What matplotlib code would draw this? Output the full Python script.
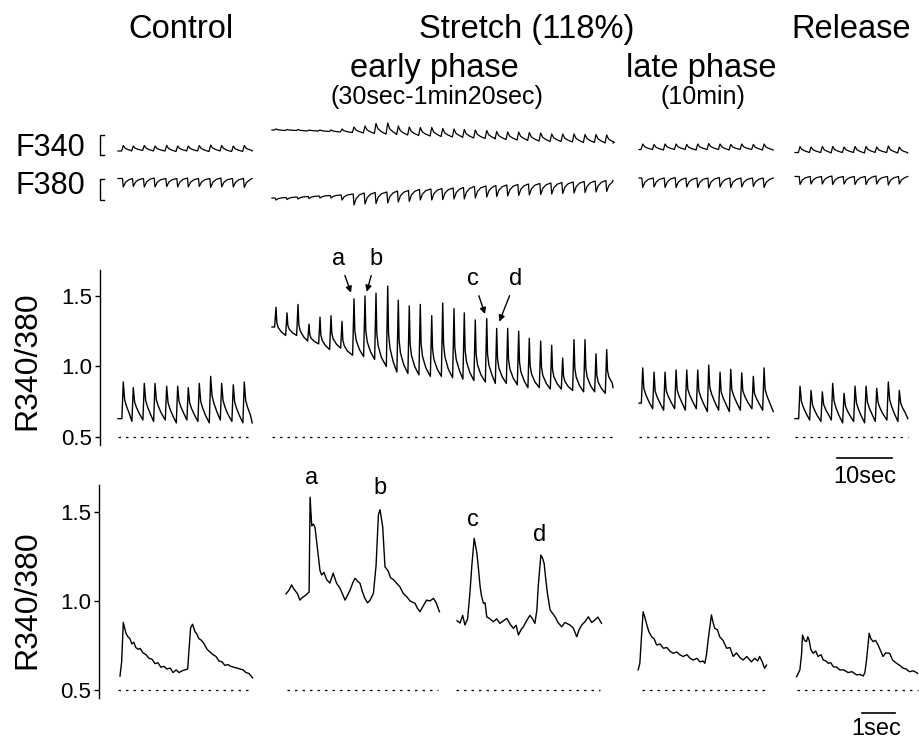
import numpy as np
import matplotlib.pyplot as plt

plt.rcParams['font.family'] = ['Liberation Sans', 'DejaVu Sans']

W, H = 919, 741

# ---------------- slow records (10 sec scale) ----------------
# peak times in s from the start of each record, ratio before each peak, ratio at peak
ctrl_peak_t = [0.96, 2.78, 4.78, 6.73, 8.85, 10.85, 12.78, 14.78, 16.85, 18.85, 20.96, 22.96]
ctrl_trough = [0.63, 0.61, 0.62, 0.61, 0.62, 0.60, 0.62, 0.61, 0.60, 0.62, 0.61, 0.60]
ctrl_peak = [0.89, 0.85, 0.88, 0.88, 0.86, 0.86, 0.85, 0.88, 0.93, 0.88, 0.87, 0.89]

early_peak_t = [0.73, 2.73, 4.73, 6.73, 8.73, 10.73, 12.73, 14.91, 16.91, 18.91, 21.04,
                22.96, 24.96, 26.96, 29.04, 31.04, 33.09, 34.96, 36.96, 39.04, 40.85,
                42.85, 44.85, 46.78, 48.85, 50.85, 52.85, 54.91, 56.91, 58.91, 60.85]
early_trough = [1.28, 1.22, 1.22, 1.18, 1.16, 1.12, 1.13, 1.08, 1.07, 1.05, 1.00,
                0.96, 0.95, 0.94, 0.93, 0.93, 0.92, 0.91, 0.90, 0.89, 0.88,
                0.88, 0.87, 0.85, 0.85, 0.84, 0.84, 0.83, 0.82, 0.82, 0.81]
early_peak = [1.42, 1.38, 1.44, 1.30, 1.35, 1.36, 1.32, 1.48, 1.50, 1.52, 1.57,
              1.47, 1.43, 1.44, 1.36, 1.45, 1.41, 1.38, 1.33, 1.34, 1.27,
              1.27, 1.25, 1.20, 1.18, 1.15, 1.06, 1.19, 1.19, 1.09, 1.12]

late_peak_t = [0.67, 2.73, 4.73, 6.73, 8.67, 10.67, 12.67, 14.73, 16.67, 18.67, 20.78, 22.73]
late_trough = [0.74, 0.70, 0.69, 0.70, 0.69, 0.70, 0.68, 0.69, 0.68, 0.69, 0.70, 0.69]
late_peak = [0.99, 0.96, 0.96, 0.975, 0.975, 0.975, 1.01, 0.96, 0.98, 0.955, 0.93, 0.99]

rel_peak_t = [0.91, 2.91, 4.96, 6.85, 8.91, 10.91, 12.91, 14.85, 16.96, 18.96]
rel_trough = [0.63, 0.62, 0.61, 0.62, 0.60, 0.61, 0.60, 0.61, 0.62, 0.61]
rel_peak = [0.86, 0.83, 0.82, 0.88, 0.81, 0.86, 0.86, 0.845, 0.89, 0.83]

# record start (s on the slow time axis), length (s), last ratio value
slow_start = [3.27, 31.27, 98.0, 126.36]
slow_len = [24.4, 62.0, 24.4, 20.5]
slow_end = [0.60, 0.85, 0.68, 0.63]

# F340 / F380 raw fluorescence (arbitrary units), one value per beat
f340_ctrl_base = [59, 59, 59.5, 59, 59, 58.5, 59, 59, 58.5, 59, 58.5, 58.5]
f340_ctrl_peak = [64.5, 64, 64.5, 64, 64.5, 64, 64, 64.5, 65, 64.5, 64, 64.5]
f380_ctrl_top = [31.5, 31.5, 31.5, 32, 31.5, 31.5, 32, 31.5, 31.5, 32, 31.5, 31.5]
f380_ctrl_dip = [23, 23.5, 23, 23, 23.5, 23, 23, 23.5, 22.5, 23, 23, 22.5]

f340_early_base = [80, 79.5, 79.5, 79, 79, 78.5, 78, 77.5, 77, 76.5, 76, 75.5, 75, 74.5, 74, 73.5,
                   73, 72.5, 72, 71.5, 71, 70.5, 70, 69.5, 69, 68.5, 68.5, 68, 67.5, 67.5, 67]
f340_early_peak = [81, 80.5, 80.5, 80, 80, 80, 81, 83, 84, 86.5, 87, 84, 83, 82.5, 82.5, 81.5,
                   81, 80.5, 80, 79.5, 78.5, 78, 78, 77.5, 77, 76, 76, 76, 75.5, 75.5, 75]
f380_early_top = [12, 12.5, 13, 13.5, 14, 14.5, 15, 16, 17, 17.5, 18, 19, 19.5, 20.5, 21, 21.5,
                  22, 22.5, 23.5, 24, 24.5, 25, 25.5, 26, 26.5, 27, 27.5, 28, 28.5, 29, 29.5]
f380_early_dip = [10, 10.5, 11, 11.5, 12, 12, 10, 5, 6, 6.5, 7, 8, 8.5, 10, 10, 10.5,
                  11, 11, 12, 13, 13.5, 14, 14.5, 15, 15.5, 16, 16.5, 17, 17.5, 18, 18.5]

f340_late_base = [60.5, 60.5, 60, 60.5, 60.5, 60, 60.5, 60.5, 60, 60.5, 60.5, 60]
f340_late_peak = [66, 65.5, 66, 66, 65.5, 66, 66.5, 66, 65.5, 66, 65.5, 66]
f380_late_top = [32, 32, 32, 32.5, 32, 32, 32, 32.5, 32, 32, 32, 32]
f380_late_dip = [22.5, 23, 22.5, 22.5, 23, 22.5, 22, 23, 22.5, 23, 23.5, 22.5]

f340_rel_base = [57.5, 57.5, 57.5, 57, 57.5, 57.5, 57, 57.5, 57.5, 57]
f340_rel_peak = [63.5, 63, 63.5, 63.5, 63, 63.5, 63.5, 63, 64, 63]
f380_rel_top = [33.5, 33.5, 33.5, 34, 33.5, 33.5, 33.5, 34, 33.5, 33.5]
f380_rel_dip = [25.5, 26, 26, 25.5, 26, 25.5, 25.5, 26, 25, 26]

f340_end = [59, 67, 60, 57]
f380_end = [31.5, 29.5, 32, 33.5]

# calibration brackets (a.u.)
bracket_lo = [55, 10]
bracket_hi = [75, 31.5]
f_names = ['F340', 'F380']
f_label_y = [62, 24]

# ---------------- fast records (1 sec scale) ----------------
# times in s from the start of each record, ratio values
ctrl_fast_t = [0.00, 0.05, 0.10, 0.14, 0.18, 0.24, 0.30, 0.36, 0.42, 0.48, 0.55, 0.61, 0.70, 0.79,
               0.88, 0.97, 1.06, 1.15, 1.24, 1.33, 1.42, 1.52, 1.61, 1.70, 1.79, 1.88, 1.97,
               2.05, 2.14, 2.20, 2.27, 2.33, 2.39, 2.47, 2.55, 2.64, 2.73, 2.82, 2.91, 3.00,
               3.09, 3.18, 3.27, 3.36, 3.45, 3.55, 3.64, 3.73, 3.82, 3.91, 4.02]
ctrl_fast_v = [0.58, 0.66, 0.88, 0.85, 0.82, 0.80, 0.79, 0.76, 0.77, 0.74, 0.73, 0.735, 0.71, 0.70,
               0.68, 0.675, 0.65, 0.655, 0.63, 0.635, 0.62, 0.625, 0.60, 0.615, 0.60, 0.61, 0.615,
               0.62, 0.85, 0.87, 0.83, 0.815, 0.79, 0.78, 0.76, 0.73, 0.715, 0.70, 0.69, 0.665,
               0.66, 0.64, 0.645, 0.635, 0.63, 0.625, 0.62, 0.615, 0.60, 0.595, 0.57]

ab_fast_t = [0.00, 0.09, 0.17, 0.23, 0.27, 0.35, 0.42, 0.50, 0.58, 0.70, 0.73, 0.78, 0.83, 0.88,
             0.93, 0.98, 1.03, 1.08, 1.15, 1.23, 1.33, 1.43, 1.53, 1.64, 1.71, 1.79, 1.86, 1.94,
             2.02, 2.09, 2.17, 2.24, 2.32, 2.39, 2.47, 2.55, 2.65, 2.73, 2.80, 2.85, 2.93, 3.00,
             3.05, 3.10, 3.17, 3.25, 3.35, 3.45, 3.56, 3.66, 3.76, 3.91, 3.98, 4.06, 4.15, 4.26,
             4.36, 4.47, 4.55, 4.65]
ab_fast_v = [1.04, 1.06, 1.09, 1.07, 1.06, 1.04, 1.005, 1.02, 1.03, 1.05, 1.58, 1.42, 1.43, 1.41,
             1.33, 1.25, 1.17, 1.145, 1.16, 1.12, 1.10, 1.155, 1.10, 1.07, 1.04, 1.005, 1.03, 1.06,
             1.10, 1.127, 1.11, 1.10, 1.05, 1.015, 0.99, 1.005, 1.043, 1.20, 1.48, 1.51, 1.415, 1.19,
             1.18, 1.165, 1.13, 1.12, 1.10, 1.08, 1.04, 1.024, 1.00, 0.987, 0.96, 0.94, 0.97, 1.005,
             1.00, 1.015, 0.99, 0.94]

cd_fast_t = [0.00, 0.09, 0.17, 0.24, 0.32, 0.39, 0.45, 0.52, 0.60, 0.65, 0.70, 0.74, 0.80, 0.85,
             0.90, 1.00, 1.10, 1.20, 1.30, 1.41, 1.51, 1.61, 1.71, 1.79, 1.86, 1.94, 2.01, 2.11,
             2.21, 2.29, 2.36, 2.42, 2.46, 2.54, 2.59, 2.64, 2.69, 2.74, 2.82, 2.90, 2.97, 3.06,
             3.17, 3.27, 3.42, 3.52, 3.63, 3.70, 3.78, 3.88, 3.98, 4.08, 4.18, 4.27, 4.38]
cd_fast_v = [0.89, 0.877, 0.92, 0.866, 0.90, 1.043, 1.20, 1.35, 1.27, 1.18, 1.08, 1.03, 0.987, 0.99,
             0.912, 0.90, 0.884, 0.90, 0.875, 0.89, 0.903, 0.87, 0.847, 0.865, 0.81, 0.84, 0.856, 0.89,
             0.92, 0.90, 0.875, 0.95, 1.08, 1.257, 1.24, 1.21, 1.12, 1.043, 0.95, 0.93, 0.912, 0.88,
             0.856, 0.88, 0.866, 0.85, 0.80, 0.84, 0.866, 0.885, 0.912, 0.88, 0.894, 0.91, 0.875]

late_fast_t = [0.00, 0.05, 0.10, 0.15, 0.20, 0.25, 0.32, 0.41, 0.48, 0.56, 0.66, 0.76, 0.87, 0.96,
               1.06, 1.17, 1.26, 1.36, 1.48, 1.57, 1.67, 1.78, 1.87, 1.96, 2.02, 2.07, 2.12, 2.22,
               2.27, 2.32, 2.40, 2.47, 2.57, 2.68, 2.78, 2.88, 2.98, 3.08, 3.18, 3.29, 3.43, 3.53,
               3.62, 3.68, 3.76, 3.83, 3.89]
late_fast_v = [0.615, 0.652, 0.80, 0.94, 0.91, 0.875, 0.83, 0.80, 0.79, 0.754, 0.76, 0.736, 0.74, 0.72,
               0.708, 0.715, 0.70, 0.69, 0.70, 0.68, 0.67, 0.68, 0.66, 0.665, 0.652, 0.70, 0.782, 0.922,
               0.88, 0.847, 0.84, 0.80, 0.78, 0.736, 0.74, 0.69, 0.71, 0.685, 0.67, 0.69, 0.66, 0.68,
               0.665, 0.69, 0.66, 0.624, 0.642]

rel_fast_t = [0.00, 0.10, 0.15, 0.18, 0.24, 0.30, 0.34, 0.38, 0.43, 0.50, 0.58, 0.65, 0.74, 0.81,
              0.89, 0.96, 1.04, 1.11, 1.22, 1.31, 1.43, 1.56, 1.68, 1.82, 1.92, 2.02, 2.07, 2.12,
              2.20, 2.25, 2.32, 2.39, 2.47, 2.55, 2.62, 2.70, 2.82, 2.91, 3.03, 3.13, 3.23, 3.32,
              3.42, 3.54, 3.67]
rel_fast_v = [0.577, 0.615, 0.70, 0.81, 0.78, 0.773, 0.80, 0.782, 0.73, 0.708, 0.72, 0.69, 0.70, 0.67,
              0.665, 0.652, 0.655, 0.633, 0.63, 0.615, 0.615, 0.60, 0.605, 0.587, 0.59, 0.581, 0.60, 0.67,
              0.82, 0.79, 0.773, 0.78, 0.754, 0.72, 0.69, 0.71, 0.708, 0.67, 0.652, 0.64, 0.624, 0.62,
              0.605, 0.61, 0.596]

fast_start = [0.636, 5.667, 10.85, 16.34, 21.14]

# dotted zero-reference (ratio 0.5) under each record, in s
slow_ref = [(3.27, 27.64), (31.27, 93.27), (98.0, 122.36), (126.36, 146.9)]
fast_ref = [(0.58, 4.64), (5.70, 10.27), (10.82, 15.18), (16.45, 20.27), (21.15, 24.82)]


def px_box(x0, y0, x1, y1):
    return [x0 / W, 1 - y1 / H, (x1 - x0) / W, (y1 - y0) / H]


def beats(start, peak_t, base, peak, end_val, length, rise, decay):
    t = [0.0]
    v = [base[0]]
    n = len(peak_t)
    for i in range(n):
        nxt = base[i + 1] if i + 1 < n else end_val
        tp, b, p = peak_t[i], base[i], peak[i]
        t += [tp - rise, tp]
        v += [b, p]
        for dt, f in decay:
            t.append(tp + dt)
            v.append(nxt + f * (p - nxt))
    t.append(length)
    v.append(end_val)
    return start + np.array(t), np.array(v)


def ratio_axis(ax, ymin, ytop):
    for s in ['top', 'right', 'bottom']:
        ax.spines[s].set_visible(False)
    ax.spines['left'].set_bounds(ymin, ytop)
    ax.spines['left'].set_linewidth(1.0)
    ax.set_yticks([0.5, 1.0, 1.5])
    ax.set_yticklabels(['0.5', '1.0', '1.5'])
    ax.tick_params(axis='y', direction='out', length=3.6, width=1.0, pad=2, labelsize=16)
    ax.set_xticks([])
    ax.patch.set_visible(False)


fig = plt.figure(figsize=(W / 100, H / 100), dpi=100)

# ---- raw fluorescence row ----
ax_f = fig.add_axes(px_box(100, 110, 919, 210))
ax_f.set_xlim(0, 148.9)
ax_f.set_ylim(0, 100)
ax_f.axis('off')

f340_sets = [(ctrl_peak_t, f340_ctrl_base, f340_ctrl_peak), (early_peak_t, f340_early_base, f340_early_peak),
             (late_peak_t, f340_late_base, f340_late_peak), (rel_peak_t, f340_rel_base, f340_rel_peak)]
f380_sets = [(ctrl_peak_t, f380_ctrl_top, f380_ctrl_dip), (early_peak_t, f380_early_top, f380_early_dip),
             (late_peak_t, f380_late_top, f380_late_dip), (rel_peak_t, f380_rel_top, f380_rel_dip)]
for i in range(4):
    pt, b, p = f340_sets[i]
    t, v = beats(slow_start[i], pt, b, p, f340_end[i], slow_len[i], 0.3,
                 [(0.35, 0.5), (0.9, 0.25), (1.4, 0.1)])
    ax_f.plot(t, v, color='k', lw=0.9)
    pt, b, p = f380_sets[i]
    t, v = beats(slow_start[i], pt, b, p, f380_end[i], slow_len[i], 0.15,
                 [(0.4, 0.45), (1.0, 0.15)])
    ax_f.plot(t, v, color='k', lw=0.9)

for lo, hi, name, ly in zip(bracket_lo, bracket_hi, f_names, f_label_y):
    ax_f.plot([0.75, 0, 0, 0.75], [hi, hi, lo, lo], color='k', lw=1.0, clip_on=False)
    ax_f.text(-2.7, ly, name, ha='right', va='center', fontsize=22, clip_on=False)

# ---- ratio, slow time base ----
ax_r = fig.add_axes(px_box(100, 240, 919, 445))
ax_r.set_xlim(0, 148.9)
ax_r.set_ylim(0.443, 1.897)
ratio_axis(ax_r, 0.443, 1.684)

slow_sets = [(ctrl_peak_t, ctrl_trough, ctrl_peak), (early_peak_t, early_trough, early_peak),
             (late_peak_t, late_trough, late_peak), (rel_peak_t, rel_trough, rel_peak)]
shapes = [[(0.25, 0.55), (0.6, 0.38), (1.1, 0.2)], [(0.15, 0.45), (0.4, 0.28), (1.0, 0.12)],
          [(0.2, 0.5), (0.55, 0.35), (1.1, 0.18)], [(0.25, 0.55), (0.6, 0.38), (1.1, 0.2)]]
for i in range(4):
    pt, b, p = slow_sets[i]
    t, v = beats(slow_start[i], pt, b, p, slow_end[i], slow_len[i], 0.25, shapes[i])
    ax_r.plot(t, v, color='k', lw=1.0)
for a, b in slow_ref:
    ax_r.plot([a, b], [0.5, 0.5], color='k', lw=0.9, ls=(0, (2, 4)))

arrow_kw = dict(arrowstyle='-|>', color='k', lw=1.0, mutation_scale=9, shrinkB=0)
ax_r.annotate('a', xy=(45.64, 1.523), xytext=(43.45, 1.762), fontsize=17, ha='center', va='center',
              arrowprops=arrow_kw)
ax_r.annotate('b', xy=(48.49, 1.53), xytext=(50.13, 1.762), fontsize=17, ha='center', va='center',
              arrowprops=arrow_kw)
ax_r.annotate('c', xy=(70.0, 1.372), xytext=(67.87, 1.618), fontsize=17, ha='center', va='center',
              arrowprops=arrow_kw)
ax_r.annotate('d', xy=(72.6, 1.318), xytext=(75.64, 1.618), fontsize=17, ha='center', va='center',
              arrowprops=arrow_kw)

ax_r.plot([134.0, 144.0], [0.351, 0.351], color='k', lw=1.2, clip_on=False)
ax_r.text(139.0, 0.215, '10sec', ha='center', va='center', fontsize=17, clip_on=False)

# ---- ratio, fast time base ----
ax_s = fig.add_axes(px_box(99, 470, 919, 698))
ax_s.set_xlim(0, 24.85)
ax_s.set_ylim(0.458, 1.732)
ratio_axis(ax_s, 0.458, 1.648)

fast_sets = [(ctrl_fast_t, ctrl_fast_v), (ab_fast_t, ab_fast_v), (cd_fast_t, cd_fast_v),
             (late_fast_t, late_fast_v), (rel_fast_t, rel_fast_v)]
for s0, (t, v) in zip(fast_start, fast_sets):
    ax_s.plot(s0 + np.array(t), v, color='k', lw=1.0, clip_on=False)
for a, b in fast_ref:
    ax_s.plot([a, b], [0.5, 0.5], color='k', lw=0.9, ls=(0, (2, 4)), clip_on=False)

for lab, x, y in [('a', 6.445, 1.685), ('b', 8.515, 1.63), ('c', 11.34, 1.45), ('d', 13.36, 1.37)]:
    ax_s.text(x, y, lab, ha='center', va='center', fontsize=17)

ax_s.plot([23.12, 24.12], [0.374, 0.374], color='k', lw=1.2, clip_on=False)
ax_s.text(23.55, 0.285, '1sec', ha='center', va='center', fontsize=17, clip_on=False)


# ---- headings and row labels ----
def ftext(x, y, s, size, va='baseline', rot=0):
    fig.text(x / W, 1 - y / H, s, ha='center', va=va, fontsize=size, rotation=rot)


ftext(27, 361, 'R340/380', 23, va='center', rot=90)
ftext(27, 600, 'R340/380', 23, va='center', rot=90)

ftext(181, 38, 'Control', 23.5)
ftext(527, 38, 'Stretch (118%)', 23.5)
ftext(851, 38, 'Release', 23.5)
ftext(434, 77, 'early phase', 23.5)
ftext(701, 77, 'late phase', 23.5)
ftext(437, 104, '(30sec-1min20sec)', 18)
ftext(703, 104, '(10min)', 18)

fig.savefig('out.png', dpi=100)
